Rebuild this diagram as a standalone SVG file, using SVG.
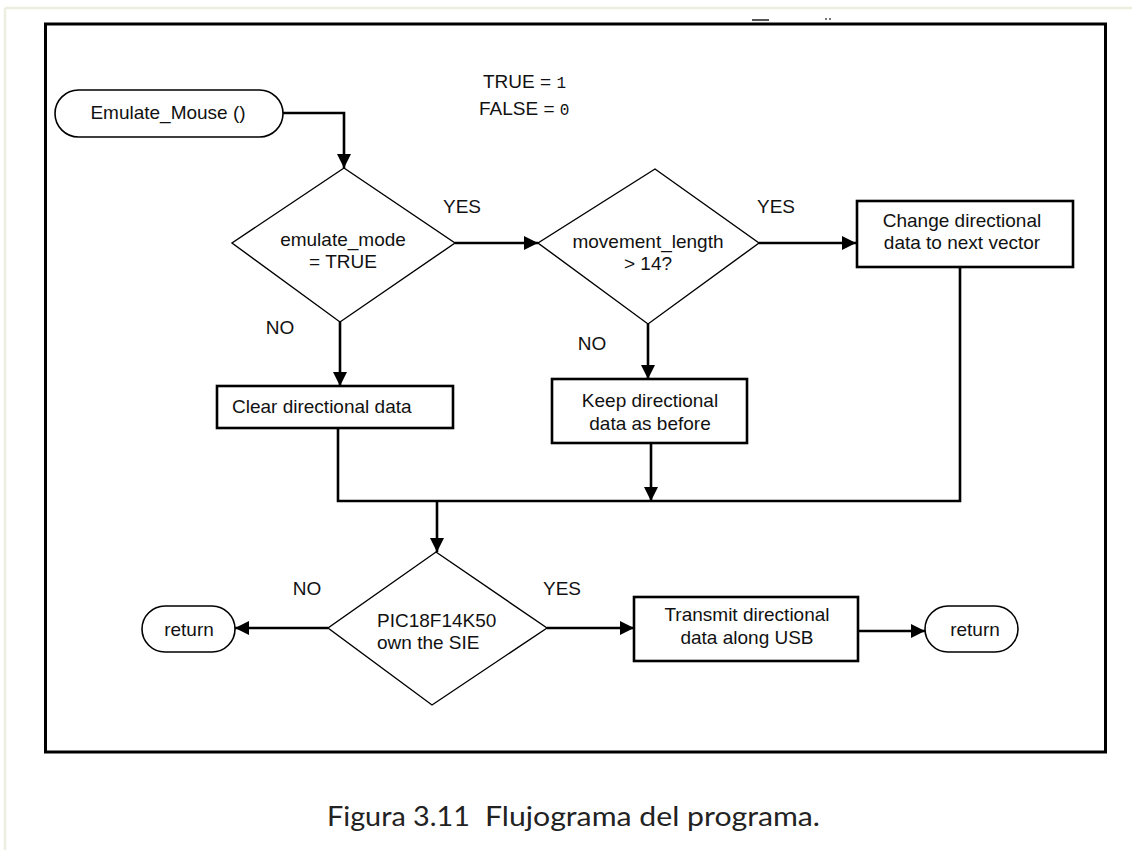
<svg xmlns="http://www.w3.org/2000/svg" width="1132" height="850" viewBox="0 0 1132 850">
  <style>
    .lbl { font-family: "Liberation Sans", Arial, sans-serif; font-size: 19px; fill: #111; }
    .mid { text-anchor: middle; }
    .box { fill: #fff; stroke: #000; stroke-width: 2.6; }
    .dia { fill: #fff; stroke: #000; stroke-width: 1.4; }
    .term { fill: #fff; stroke: #000; stroke-width: 1.6; }
    .wire { fill: none; stroke: #000; stroke-width: 2.6; }
    .mono { font-family: "Liberation Mono", "Courier New", monospace; font-size: 16px; }
    .cap { font-family: Lato, "Open Sans", sans-serif; font-size: 26px; fill: #222; }
  </style>
  <defs>
    <marker id="arrow" viewBox="0 0 14 14" refX="14" refY="7" markerWidth="14" markerHeight="14" markerUnits="userSpaceOnUse" orient="auto">
      <path d="M0,0 L14,7 L0,14 Z" fill="#000"/>
    </marker>
  </defs>

  <!-- page background and edge -->
  <rect x="0" y="0" width="1132" height="850" fill="#fff"/>
  <line x1="5" y1="8" x2="1132" y2="8" stroke="#eeede2" stroke-width="2.5"/>
  <line x1="5" y1="8" x2="5" y2="850" stroke="#eeede2" stroke-width="2.5"/>

  <!-- clipped marks above the frame -->
  <rect x="752" y="19" width="17" height="2" fill="#555"/>
  <rect x="825" y="18" width="2" height="2" fill="#777"/>
  <rect x="829" y="18" width="2" height="2" fill="#777"/>

  <!-- figure frame -->
  <rect x="45.5" y="24" width="1060" height="728" fill="none" stroke="#000" stroke-width="3"/>

  <!-- legend -->
  <g id="legend">
    <text class="lbl" x="483" y="88">TRUE = <tspan class="mono">1</tspan></text>
    <text class="lbl" x="479" y="115">FALSE = <tspan class="mono">0</tspan></text>
  </g>

  <!-- connectors -->
  <g id="connectors">
    <polyline class="wire" points="283,113 344,113 344,168" marker-end="url(#arrow)"/>
    <line class="wire" x1="455" y1="243" x2="538" y2="243" marker-end="url(#arrow)"/>
    <line class="wire" x1="759" y1="243" x2="856" y2="243" marker-end="url(#arrow)"/>
    <line class="wire" x1="340" y1="322" x2="340" y2="386" marker-end="url(#arrow)"/>
    <line class="wire" x1="648" y1="324" x2="648" y2="379" marker-end="url(#arrow)"/>
    <line class="wire" x1="651" y1="443" x2="651" y2="501" marker-end="url(#arrow)"/>
    <polyline class="wire" points="338,428 338,501 960,501 960,267"/>
    <line class="wire" x1="437" y1="501" x2="437" y2="552" marker-end="url(#arrow)"/>
    <line class="wire" x1="328" y1="628" x2="235" y2="628" marker-end="url(#arrow)"/>
    <line class="wire" x1="547" y1="628" x2="634" y2="628" marker-end="url(#arrow)"/>
    <line class="wire" x1="858" y1="631" x2="925" y2="631" marker-end="url(#arrow)"/>
  </g>

  <!-- branch labels -->
  <g id="branch-labels">
    <text class="lbl mid" x="462" y="213">YES</text>
    <text class="lbl mid" x="776" y="213">YES</text>
    <text class="lbl mid" x="280" y="334">NO</text>
    <text class="lbl mid" x="592" y="350">NO</text>
    <text class="lbl mid" x="307" y="595">NO</text>
    <text class="lbl mid" x="562" y="595">YES</text>
  </g>

  <g id="start">
    <rect class="term" x="55" y="90" width="228" height="47" rx="23.5"/>
    <text class="lbl mid" x="168" y="119">Emulate_Mouse ()</text>
  </g>

  <g id="check-mode">
    <polygon class="dia" points="344,168 455,243 340,322 232,243"/>
    <text class="lbl mid" x="343" y="246">emulate_mode</text>
    <text class="lbl mid" x="343" y="268">= TRUE</text>
  </g>

  <g id="check-length">
    <polygon class="dia" points="655,169 759,243 648,324 538,243"/>
    <text class="lbl mid" x="648" y="248">movement_length</text>
    <text class="lbl mid" x="648" y="270">&gt; 14?</text>
  </g>

  <g id="change-data">
    <rect class="box" x="857" y="201" width="216" height="66"/>
    <text class="lbl mid" x="962" y="227">Change directional</text>
    <text class="lbl mid" x="962" y="249">data to next vector</text>
  </g>

  <g id="clear-data">
    <rect class="box" x="217" y="386" width="236" height="42"/>
    <text class="lbl" x="232" y="413">Clear directional data</text>
  </g>

  <g id="keep-data">
    <rect class="box" x="552" y="379" width="195" height="64"/>
    <text class="lbl mid" x="650" y="407">Keep directional</text>
    <text class="lbl mid" x="650" y="430">data as before</text>
  </g>

  <g id="check-sie">
    <polygon class="dia" points="436,552 547,628 432,705 328,628"/>
    <text class="lbl" x="377" y="627">PIC18F14K50</text>
    <text class="lbl" x="377" y="649">own the SIE</text>
  </g>

  <g id="return-no">
    <rect class="term" x="142" y="606" width="93" height="46" rx="23"/>
    <text class="lbl mid" x="189" y="636">return</text>
  </g>

  <g id="transmit">
    <rect class="box" x="634" y="597" width="224" height="64"/>
    <text class="lbl mid" x="747" y="621">Transmit directional</text>
    <text class="lbl mid" x="747" y="644">data along USB</text>
  </g>

  <g id="return-yes">
    <rect class="term" x="925" y="606" width="93" height="46" rx="23"/>
    <text class="lbl mid" x="975" y="636">return</text>
  </g>

  <!-- caption -->
  <text class="cap"><tspan x="327" y="826" textLength="143" lengthAdjust="spacingAndGlyphs">Figura 3.11</tspan><tspan x="485" y="826" textLength="335" lengthAdjust="spacingAndGlyphs">Flujograma del programa.</tspan></text>
</svg>
